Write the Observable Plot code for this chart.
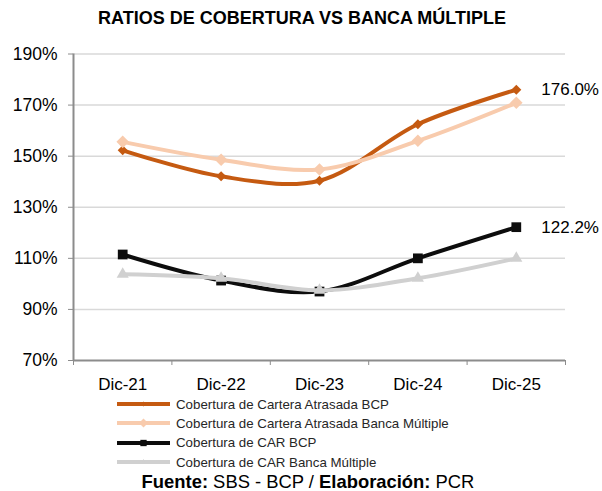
<!DOCTYPE html>
<html>
<head>
<meta charset="utf-8">
<script src="https://cdn.jsdelivr.net/npm/d3@7"></script>
<script src="https://cdn.jsdelivr.net/npm/@observablehq/plot@0.6"></script>
<style>
  html, body { margin: 0; background: #fff; font-family: "Liberation Sans", Arial, sans-serif; overflow: hidden; }
  #wrap { width: 602px; }
  #title { height: 36px; line-height: 36px; text-align: center; font-weight: bold; font-size: 18px; color: #000; padding-left: 2px; }
  #legend { padding-top: 1.5px; padding-left: 117px; }
  .row { height: 19.3px; display: flex; align-items: center; font-size: 13.3px; color: #262626; }
  .row svg { margin-right: 6px; }
  #caption { height: 19px; line-height: 19px; text-align: center; font-size: 18.4px; color: #000; padding-left: 14px; }
  #chart svg text { font-weight: normal; }
</style>
</head>
<body>
<div id="wrap">
  <div id="title">RATIOS DE COBERTURA VS BANCA MÚLTIPLE</div>
  <div id="chart"></div>
  <div id="legend"></div>
  <div id="caption"><b>Fuente:</b> SBS - BCP / <b>Elaboración:</b> PCR</div>
</div>
<script>
const categories = ["Dic-21", "Dic-22", "Dic-23", "Dic-24", "Dic-25"];
const seriesNames = [
  "Cobertura de Cartera Atrasada BCP",
  "Cobertura de Cartera Atrasada Banca Múltiple",
  "Cobertura de CAR BCP",
  "Cobertura de CAR Banca Múltiple"
];
const carteraBCP = [152.3, 142.1, 140.4, 162.5, 176.0];
const carteraBanca = [155.6, 148.6, 144.8, 156.0, 170.9];
const carBCP = [111.5, 101.3, 97.0, 110.0, 122.2];
const carBanca = [103.8, 102.2, 97.5, 102.2, 110.0];
const yTicks = [70, 90, 110, 130, 150, 170, 190];
const colors = ["#C55A11", "#F8CBAD", "#0d0d0d", "#D0D0D0"];
const symbols = ["square", "square", "square", "triangle"];
const rotations = [45, 45, 0, 0];
const radii = [4, 5, 5.5, 4.5];
const labelled = [true, false, true, false];

const allValues = [carteraBCP, carteraBanca, carBCP, carBanca];
const n = categories.length;
const boundaries = d3.range(n + 1).map(i => i - 0.5);
const axisColor = "#8c8c8c";

const marks = [
  Plot.ruleY(yTicks.filter(d => d > yTicks[0]), {stroke: "#d9d9d9", strokeWidth: 1.5}),
  Plot.ruleX([boundaries[0]], {stroke: axisColor, strokeWidth: 2}),
  Plot.ruleY([yTicks[0]], {stroke: axisColor, strokeWidth: 2}),
  Plot.axisY({ticks: yTicks, tickFormat: d => d + "%", tickSize: 5, tickPadding: 11, stroke: axisColor, fill: "#000", fontSize: 17.5, fontWeight: "normal", label: null}),
  Plot.axisX({ticks: boundaries, tickFormat: () => "", tickSize: 5, stroke: axisColor, label: null}),
  Plot.axisX({ticks: d3.range(n), tickFormat: i => categories[i], tickSize: 0, tickPadding: 17, fill: "#000", fontSize: 17, fontWeight: "normal", label: null})
];

seriesNames.forEach((name, s) => {
  const rows = allValues[s].map((v, i) => ({series: name, i, value: v}));
  marks.push(Plot.line(rows, {x: "i", y: "value", stroke: colors[s], strokeWidth: 4, curve: "catmull-rom"}));
  marks.push(Plot.dot(rows, {x: "i", y: "value", symbol: symbols[s], rotate: rotations[s], r: radii[s], fill: colors[s], stroke: "none"}));
  if (labelled[s]) {
    const last = rows.slice(-1);
    marks.push(Plot.text(last, {x: "i", y: "value", text: d => d.value.toFixed(1) + "%", textAnchor: "start", dx: 25, fontSize: 17, fill: "#000"}));
  }
});

const chart = Plot.plot({
  width: 602,
  height: 357,
  marginTop: 17.5,
  marginBottom: 33,
  marginLeft: 73,
  marginRight: 37,
  style: {fontFamily: "'Liberation Sans', Arial, sans-serif", fontSize: "17px", color: "#000", background: "#fff"},
  x: {type: "linear", domain: [boundaries[0], boundaries[n]], label: null},
  y: {domain: [yTicks[0], yTicks[yTicks.length - 1]], label: null},
  marks
});
document.getElementById("chart").appendChild(chart);

// legend
const legend = document.getElementById("legend");
seriesNames.forEach((name, s) => {
  const row = document.createElement("div");
  row.className = "row";
  const sw = d3.create("svg").attr("width", 53).attr("height", 12);
  sw.append("line").attr("x1", 0).attr("x2", 53).attr("y1", 6).attr("y2", 6)
    .attr("stroke", colors[s]).attr("stroke-width", 4);
  const sym = {square: d3.symbolSquare, triangle: d3.symbolTriangle}[symbols[s]];
  const size = [12, 40, 40, 12][s];
  sw.append("path").attr("d", d3.symbol(sym, size)())
    .attr("transform", `translate(26.5,6) rotate(${rotations[s]})`).attr("fill", colors[s]);
  row.appendChild(sw.node());
  const span = document.createElement("span");
  span.textContent = name;
  row.appendChild(span);
  legend.appendChild(row);
});
</script>
</body>
</html>
